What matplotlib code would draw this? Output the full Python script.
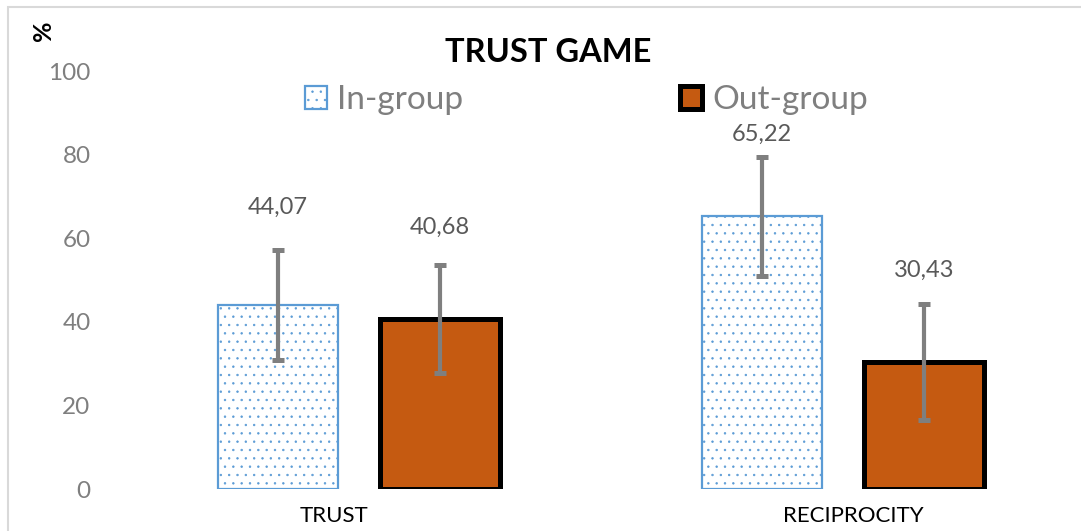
import numpy as np
import matplotlib
matplotlib.use("Agg")
import matplotlib.pyplot as plt
import matplotlib.transforms as mtransforms
from matplotlib.patches import Rectangle

plt.rcParams['font.family'] = ['Lato', 'DejaVu Sans']
plt.rcParams['hatch.linewidth'] = 0.5

categories = ['TRUST', 'RECIPROCITY']
groups = ['In-group', 'Out-group']
in_group = [44.07, 65.22]
out_group = [40.68, 30.43]
in_err = [13.1, 14.3]
out_err = [12.9, 13.9]
value_labels_in = ['44,07', '65,22']
value_labels_out = ['40,68', '30,43']
yticks = [0, 20, 40, 60, 80, 100]

blue = '#5B9BD5'
orange = '#C55A11'
grey = '#7F7F7F'

fig = plt.figure(figsize=(10.81, 5.31), dpi=100)
ax = fig.add_axes([117 / 1081, 42 / 531, (1081 - 117) / 1081, 418 / 531])

x = np.arange(len(categories))
w = 0.248
off = 0.167

ax.bar(x - off, in_group, w, facecolor='white', edgecolor=blue, hatch='..',
       linewidth=1.6, label=groups[0], zorder=2)
ax.bar(x + off, out_group, w, facecolor=orange, edgecolor='black',
       linewidth=3.6, label=groups[1], zorder=2)

ax.errorbar(x - off, in_group, yerr=in_err, fmt='none', ecolor=grey,
            elinewidth=3, capsize=4.3, capthick=3.6, zorder=3)
ax.errorbar(x + off, out_group, yerr=out_err, fmt='none', ecolor=grey,
            elinewidth=3, capsize=4.3, capthick=3.6, zorder=3)

# data labels sit above the error bars, moved by hand like in the original
offs_in = [43, 22]
offs_out = [38, 33]
for i in range(len(categories)):
    ax.annotate(value_labels_in[i], (x[i] - off, in_group[i] + in_err[i]),
                xytext=(0, offs_in[i] * 0.72), textcoords='offset points',
                ha='center', va='center', fontsize=17, color='#595959')
    ax.annotate(value_labels_out[i], (x[i] + off, out_group[i] + out_err[i]),
                xytext=(0, offs_out[i] * 0.72), textcoords='offset points',
                ha='center', va='center', fontsize=17, color='#595959')

ax.set_xlim(-0.5, 1.4917)
ax.set_ylim(0, 100)
ax.set_yticks(yticks)
ax.set_xticks(x)
ax.set_xticklabels(categories, fontsize=16, color='black')
ax.tick_params(axis='y', length=0, pad=19, labelsize=17.5, labelcolor=grey)
ax.tick_params(axis='x', length=0, pad=12)
for s in ax.spines.values():
    s.set_visible(False)

# the category labels are not quite centred under the groups in the original
shifts = [-25, 10]
for lab, dx in zip(ax.get_xticklabels(), shifts):
    lab.set_transform(lab.get_transform() +
                      mtransforms.ScaledTranslation(dx / 100, 0, fig.dpi_scale_trans))

fig.text(548 / 1081, 1 - 52 / 531, 'TRUST GAME', ha='center', va='center',
         fontsize=23.5, fontweight='bold', color='black')
fig.text(44 / 1081, 1 - 31 / 531, '%', rotation=90, ha='center', va='center',
         fontsize=18, fontweight='bold', color='black')

fig.legend(loc='center left', bbox_to_anchor=(305 / 1081, 1 - 100 / 531),
           ncol=2, frameon=False, fontsize=24, labelcolor=grey,
           handlelength=0.67, handleheight=0.67, handletextpad=0.3,
           columnspacing=6.5, borderpad=0, borderaxespad=0)

# light chart-area border (only top and left are visible in the crop)
fig.add_artist(Rectangle((8 / 1081, -0.1), 1.2, 0.1 + (531 - 7) / 531,
                         transform=fig.transFigure, fill=False,
                         edgecolor='#D9D9D9', linewidth=1.5))

fig.savefig('out.png', dpi=100)
